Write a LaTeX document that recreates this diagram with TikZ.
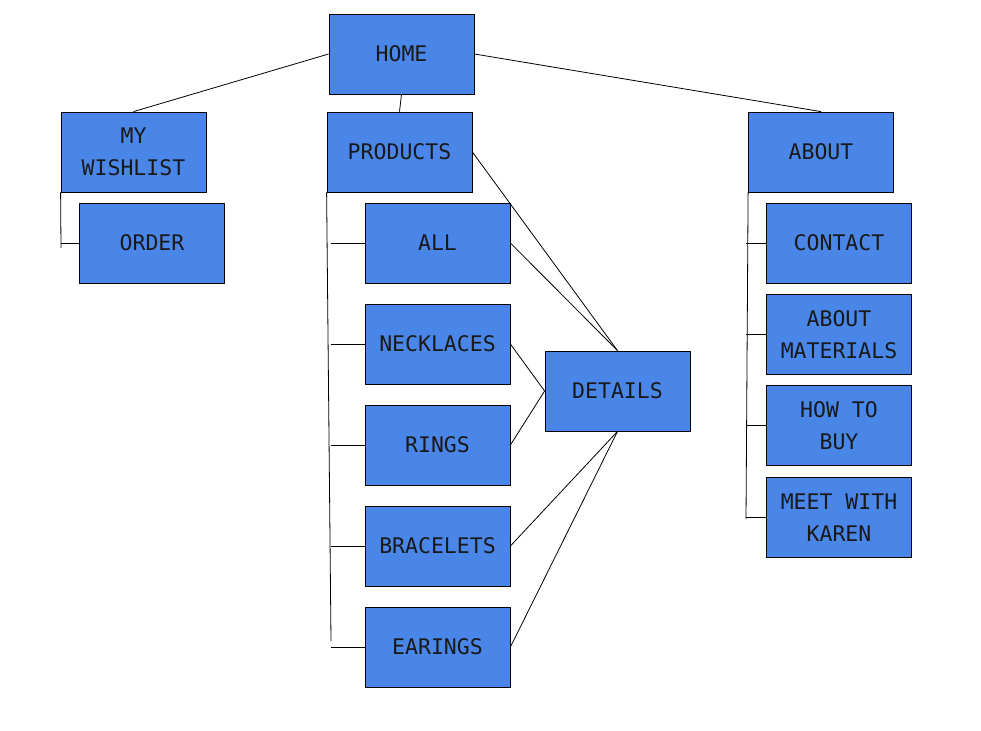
\documentclass[tikz,border=0pt]{standalone}
\usepackage{fontspec}
\setmonofont{DejaVu Sans Mono}
\usepackage{tikz}
\usetikzlibrary{positioning}
\definecolor{boxblue}{HTML}{4A86E8}
\begin{document}
\begin{tikzpicture}
            [x=1pt,y=-1pt,
             page/.style={draw=black,line width=0.8pt,fill=boxblue,
               minimum width=145pt,minimum height=80pt,inner sep=0pt,
               align=center,text=black!90,
               font=\ttfamily\fontsize{21.5}{32}\selectfont},
             link/.style={black,line width=0.8pt}]
            \useasboundingbox (0,0) rectangle (981,730);

            % top level
            \node[page] (home) at (401.5,54) {HOME};
            \node[page] (wish) at (133.5,152) {MY\\WISHLIST};
            \node[page] (prod) at (399.5,152) {PRODUCTS};
            \node[page] (about) at (821,152) {ABOUT};

            % sub pages
            \node[page] (order) at (152,243) {ORDER};
            \node[page] (all) at (437.5,243) {ALL};
            \node[page, below=20.2pt of all] (neck) {NECKLACES};
            \node[page, below=20.2pt of neck] (rings) {RINGS};
            \node[page, below=20.2pt of rings] (brace) {BRACELETS};
            \node[page, below=20.2pt of brace] (ear) {EARINGS};
            \node[page] (details) at (617.5,391) {DETAILS};
            \node[page] (contact) at (839,243) {CONTACT};
            \node[page, below=11pt of contact] (mater) {ABOUT\\MATERIALS};
            \node[page, below=10pt of mater] (buy) {HOW TO\\BUY};
            \node[page, below=11pt of buy] (karen) {MEET WITH\\KAREN};

            % links from home
            \draw[link] (home.west) -- (wish.north);
            \draw[link] (home.east) -- (about.north);
            \draw[link] (home.south) -- (prod.north);

            % trunks
            \coordinate (wishend) at (61,248);
            \coordinate (prodend) at (331,641);
            \coordinate (aboutend) at (746,519);
            \draw[link] (wish.south west) -- (wishend);
            \draw[link] (prod.south west) -- (prodend);
            \draw[link] (about.south west) -- (aboutend);
            \draw[link] (order.west) -- (order.west -| wishend);
            \foreach \n in {all,neck,rings,brace,ear} {
                \draw[link] (\n.west) -- (\n.west -| prodend);
            }
            \foreach \n in {contact,mater,buy,karen} {
                \draw[link] (\n.west) -- (\n.west -| aboutend);
            }

            % details
            \draw[link] (prod.east) -- (details.north);
            \draw[link] (all.east) -- (details.north);
            \draw[link] (neck.east) -- (details.west);
            \draw[link] (rings.east) -- (details.west);
            \draw[link] (brace.east) -- (details.south);
            \draw[link] (ear.east) -- (details.south);
        \end{tikzpicture}
\end{document}
